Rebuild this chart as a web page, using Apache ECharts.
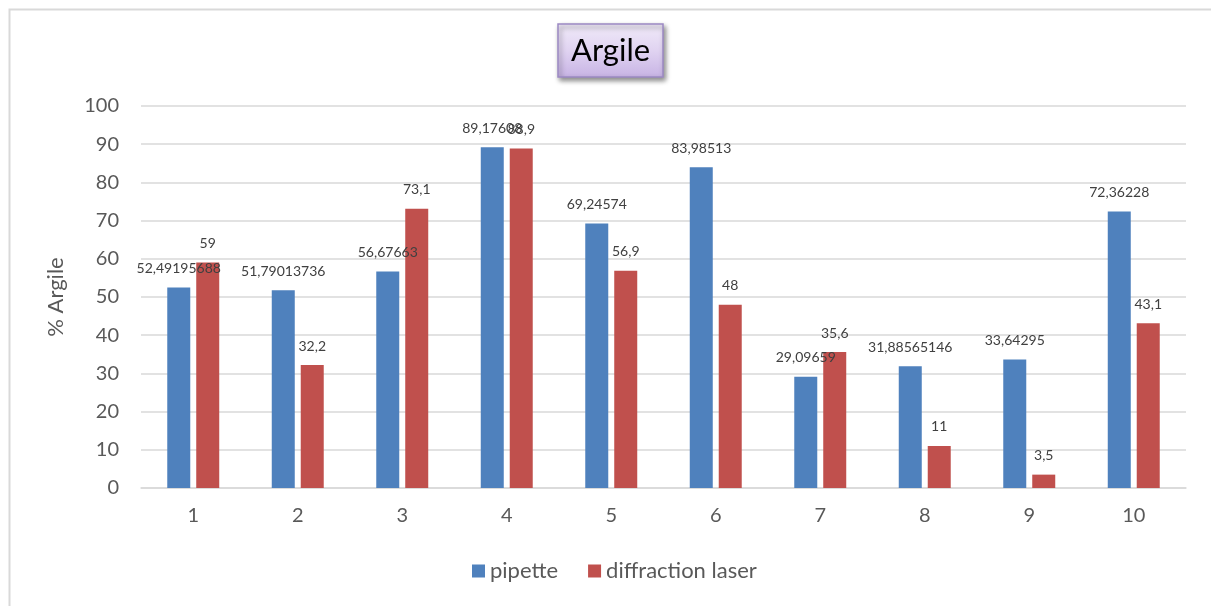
<!DOCTYPE html>
<html>
<head>
<meta charset="utf-8">
<script src="https://cdn.jsdelivr.net/npm/echarts@6/dist/echarts.min.js"></script>
<style>
  html, body { margin: 0; padding: 0; background: #ffffff; }
  #chart { width: 1211px; height: 606px; }
</style>
</head>
<body>
<div id="chart"></div>
<script>
// Sample numbers on the x axis
const categories = ['1', '2', '3', '4', '5', '6', '7', '8', '9', '10'];
// Clay percentage measured by pipette method
const pipette = [52.49195688, 51.79013736, 56.67663, 89.17608, 69.24574, 83.98513, 29.09659, 31.88565146, 33.64295, 72.36228];
// Clay percentage measured by laser diffraction
const diffractionLaser = [59, 32.2, 73.1, 88.9, 56.9, 48, 35.6, 11, 3.5, 43.1];
const seriesNames = ['pipette', 'diffraction laser'];
const yTicks = { min: 0, max: 100, interval: 10 };

const FONT = 'Lato, "Liberation Sans", sans-serif';
const chart = echarts.init(document.getElementById('chart'), null, { renderer: 'canvas' });

// Decimal comma formatting for the data labels
const commaFmt = p => String(p.value).replace('.', ',');

const labelStyle = {
  show: true,
  position: 'top',
  distance: 12,
  fontFamily: FONT,
  fontSize: 14,
  color: '#404040',
  formatter: commaFmt
};

chart.setOption({
  animation: false,
  graphic: [{
    type: 'rect',
    left: 7, top: 7,
    shape: { width: 1220, height: 620 },
    style: { fill: 'none', stroke: '#d9d9d9', lineWidth: 2 },
    silent: true,
    z: -10
  }],
  title: {
    text: 'Argile',
    left: 558,
    top: 24,
    padding: [11, 13, 11, 13],
    backgroundColor: new echarts.graphic.LinearGradient(0, 0, 0, 1, [
      { offset: 0, color: '#f1ebf9' },
      { offset: 0.5, color: '#e0d3f1' },
      { offset: 1, color: '#c7b3e4' }
    ]),
    borderColor: '#9c89c4',
    borderWidth: 1.5,
    shadowBlur: 5,
    shadowColor: 'rgba(0,0,0,0.45)',
    shadowOffsetX: 2,
    shadowOffsetY: 3,
    textStyle: { fontFamily: FONT, fontSize: 31, fontWeight: 'normal', color: '#000000' }
  },
  legend: {
    data: seriesNames,
    bottom: 19,
    left: 467,
    itemWidth: 13,
    itemHeight: 13,
    itemGap: 30,
    icon: 'rect',
    textStyle: { fontFamily: FONT, fontSize: 22, color: '#595959' }
  },
  grid: { left: 141, right: 25, top: 106, bottom: 118, containLabel: false },
  xAxis: {
    type: 'category',
    data: categories,
    axisLine: { lineStyle: { color: '#d9d9d9', width: 1.5 } },
    axisTick: { show: false },
    axisLabel: { fontFamily: FONT, fontSize: 20, color: '#595959', margin: 18 }
  },
  yAxis: {
    type: 'value',
    min: yTicks.min,
    max: yTicks.max,
    interval: yTicks.interval,
    name: '% Argile',
    nameLocation: 'middle',
    nameGap: 74,
    nameRotate: 90,
    nameTextStyle: { fontFamily: FONT, fontSize: 22, color: '#595959' },
    axisLine: { show: false },
    axisTick: { show: false },
    splitLine: { lineStyle: { color: '#d9d9d9', width: 1.5 } },
    axisLabel: { fontFamily: FONT, fontSize: 20, color: '#595959', margin: 22 }
  },
  series: [
    {
      name: seriesNames[0],
      type: 'bar',
      data: pipette,
      barWidth: 23,
      barGap: '26%',
      itemStyle: { color: '#4f81bd' },
      label: labelStyle
    },
    {
      name: seriesNames[1],
      type: 'bar',
      data: diffractionLaser,
      barWidth: 23,
      itemStyle: { color: '#c0504d' },
      label: labelStyle
    }
  ]
});
</script>
</body>
</html>
